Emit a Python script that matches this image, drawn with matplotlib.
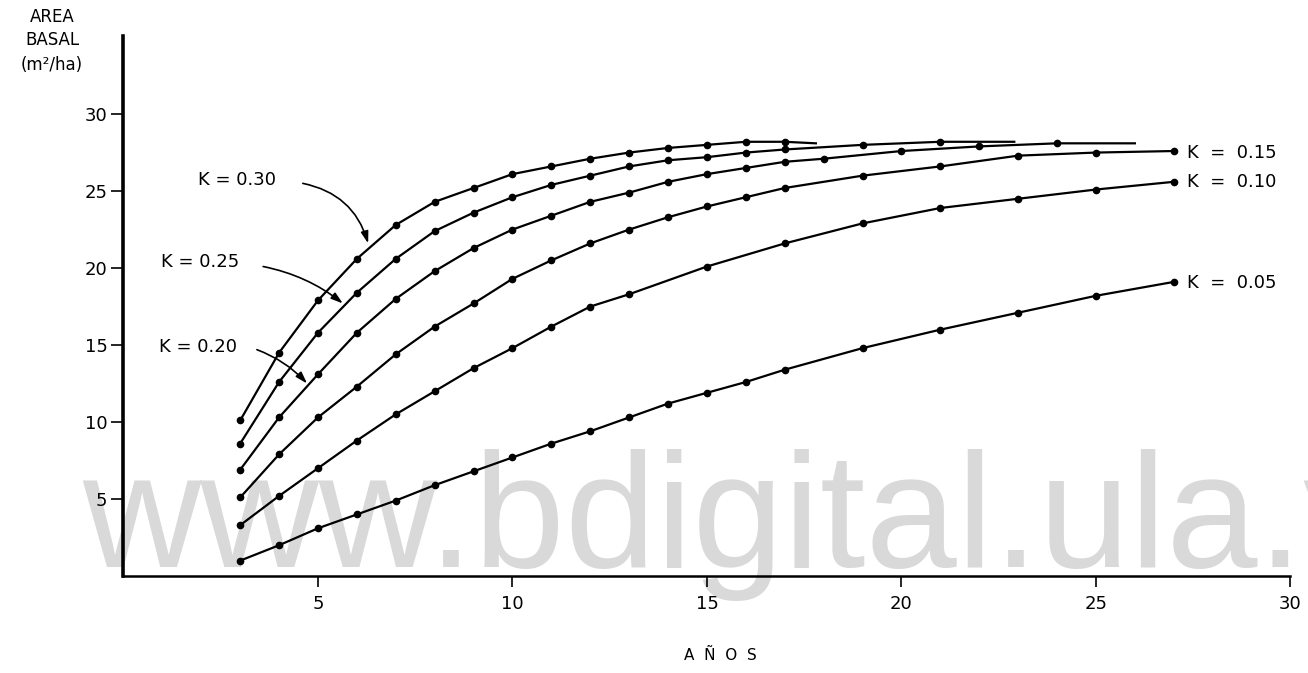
import matplotlib.pyplot as plt

# basal area (m2/ha), one list per K
years_k30 = [3, 4, 5, 6, 7, 8, 9, 10, 11, 12, 13, 14, 15, 16, 17]
ab_k30 = [10.1, 14.5, 17.9, 20.6, 22.8, 24.3, 25.2, 26.1, 26.6, 27.1, 27.5, 27.8, 28.0, 28.2, 28.2]
end_k30 = (17.8, 28.1)

years_k25 = [3, 4, 5, 6, 7, 8, 9, 10, 11, 12, 13, 14, 15, 16, 17, 19, 21]
ab_k25 = [8.6, 12.6, 15.8, 18.4, 20.6, 22.4, 23.6, 24.6, 25.4, 26.0, 26.6, 27.0, 27.2, 27.5, 27.7, 28.0, 28.2]
end_k25 = (22.9, 28.2)

years_k20 = [3, 4, 5, 6, 7, 8, 9, 10, 11, 12, 13, 14, 15, 16, 17, 18, 20, 22, 24]
ab_k20 = [6.9, 10.3, 13.1, 15.8, 18.0, 19.8, 21.3, 22.5, 23.4, 24.3, 24.9, 25.6, 26.1, 26.5, 26.9, 27.1, 27.6, 27.9, 28.1]
end_k20 = (26.0, 28.1)

years_k15 = [3, 4, 5, 6, 7, 8, 9, 10, 11, 12, 13, 14, 15, 16, 17, 19, 21, 23, 25, 27]
ab_k15 = [5.1, 7.9, 10.3, 12.3, 14.4, 16.2, 17.7, 19.3, 20.5, 21.6, 22.5, 23.3, 24.0, 24.6, 25.2, 26.0, 26.6, 27.3, 27.5, 27.6]

years_k10 = [3, 4, 5, 6, 7, 8, 9, 10, 11, 12, 13, 15, 17, 19, 21, 23, 25, 27]
ab_k10 = [3.3, 5.2, 7.0, 8.8, 10.5, 12.0, 13.5, 14.8, 16.2, 17.5, 18.3, 20.1, 21.6, 22.9, 23.9, 24.5, 25.1, 25.6]

years_k05 = [3, 4, 5, 6, 7, 8, 9, 10, 11, 12, 13, 14, 15, 16, 17, 19, 21, 23, 25, 27]
ab_k05 = [1.0, 2.0, 3.1, 4.0, 4.9, 5.9, 6.8, 7.7, 8.6, 9.4, 10.3, 11.2, 11.9, 12.6, 13.4, 14.8, 16.0, 17.1, 18.2, 19.1]

x_ticks = [5, 10, 15, 20, 25, 30]
y_ticks = [5, 10, 15, 20, 25, 30]

fig = plt.figure(figsize=(13.08, 6.73), dpi=100)
ax = fig.add_axes([0.0944, 0.1441, 0.8922, 0.8031])

# watermark of the scanned page, behind the curves
ax.text(0.063, 0.1575, "www.bdigital.ula.ve", transform=fig.transFigure,
        family="Liberation Sans", fontsize=118, color="#d9d9d9",
        ha="left", va="baseline", zorder=0.5, clip_on=False)

series = [
    (years_k30, ab_k30, end_k30),
    (years_k25, ab_k25, end_k25),
    (years_k20, ab_k20, end_k20),
    (years_k15, ab_k15, None),
    (years_k10, ab_k10, None),
    (years_k05, ab_k05, None),
]
for xs, ys, end in series:
    xl, yl = list(xs), list(ys)
    if end is not None:
        xl.append(end[0])
        yl.append(end[1])
    ax.plot(xl, yl, "-", color="black", lw=1.6, zorder=3)
    ax.plot(xs, ys, "o", color="black", ms=4.5, zorder=4)

# labels at the right end
ax.text(27.35, 27.5, "K  =  0.15", fontsize=13, va="center", ha="left")
ax.text(27.35, 25.6, "K  =  0.10", fontsize=13, va="center", ha="left")
ax.text(27.35, 19.0, "K  =  0.05", fontsize=13, va="center", ha="left")

# labels with arrows on the left
arrow = dict(arrowstyle="-|>,head_length=0.7,head_width=0.22", color="black", lw=1.2,
             shrinkA=0, shrinkB=0)
ax.text(1.92, 25.7, "K = 0.30", fontsize=13, va="center", ha="left")
ax.annotate("", xy=(6.29, 21.6), xytext=(4.61, 25.5),
            arrowprops=dict(arrow, connectionstyle="arc3,rad=-0.3"))
ax.text(0.96, 20.4, "K = 0.25", fontsize=13, va="center", ha="left")
ax.annotate("", xy=(5.64, 17.7), xytext=(3.59, 20.1),
            arrowprops=dict(arrow, connectionstyle="arc3,rad=-0.12"))
ax.text(0.91, 14.9, "K = 0.20", fontsize=13, va="center", ha="left")
ax.annotate("", xy=(4.72, 12.5), xytext=(3.43, 14.7),
            arrowprops=dict(arrow, connectionstyle="arc3,rad=-0.12"))

ax.set_xlim(0, 30)
ax.set_ylim(0, 35.1)
ax.set_xticks(x_ticks)
ax.set_yticks(y_ticks)
ax.tick_params(axis="both", direction="out", labelsize=13, width=1.2, color="black")
ax.tick_params(axis="x", length=8, pad=6)
ax.tick_params(axis="y", length=8.5, pad=3)

for side in ["top", "right"]:
    ax.spines[side].set_visible(False)
ax.spines["left"].set_linewidth(2.6)
ax.spines["bottom"].set_linewidth(1.8)

# y axis title stacked in the top left corner
fig.text(0.0398, 1 - 17 / 673, "AREA", fontsize=12, ha="center", va="center")
fig.text(0.0398, 1 - 40 / 673, "BASAL", fontsize=12, ha="center", va="center")
fig.text(0.0398, 1 - 65 / 673, "(m²/ha)", fontsize=12, ha="center", va="center")

fig.text(720 / 1308, 1 - 655 / 673, "A  Ñ  O  S", fontsize=11, ha="center", va="center")

fig.savefig("out.png", dpi=100)
